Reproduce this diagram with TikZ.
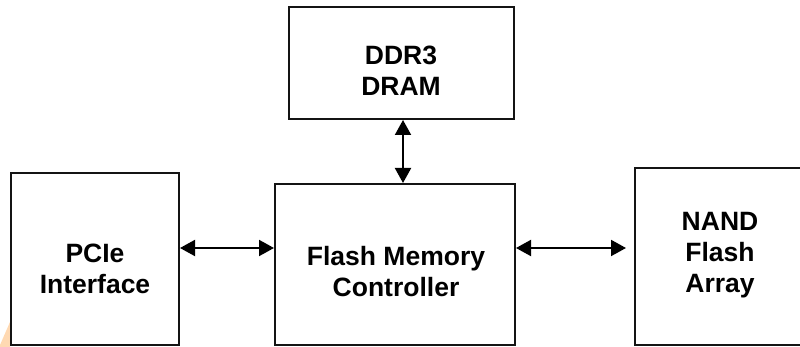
\documentclass[tikz,border=0pt]{standalone}
\usepackage{fontspec}
\setmainfont{Liberation Sans}
\usetikzlibrary{arrows.meta}
\begin{document}
\begin{tikzpicture}[x=1pt,y=-1pt,
  blk/.style={draw=black!92,line width=2pt,rectangle,inner sep=0pt},
  lbl/.style={align=center,anchor=base,inner sep=0pt,
    font=\fontsize{26.5}{31}\selectfont\bfseries},
  arr/.style={line width=2pt,{Triangle[length=15pt,width=16pt]}-{Triangle[length=15pt,width=16pt]}}]
\useasboundingbox (0,0) rectangle (800,347);
\fill[orange!30!white] (0,345) -- (10,322) -- (10,347) -- (0,347) -- cycle;
% boxes
\node[blk,minimum width=225pt,minimum height=112pt] (dram) at (401.5,63) {};
\node[blk,minimum width=240pt,minimum height=161pt] (ctrl) at (395,264.5) {};
\node[blk,minimum width=168pt,minimum height=172pt] (pcie) at (95,259) {};
\node[blk,minimum width=170pt,minimum height=177pt] (nand) at (720,256.5) {};
% labels (anchor = baseline of last line)
\node[lbl] (tdram) at (401,96) {DDR3\\DRAM};
\node[lbl] (tctrl) at (396,296) {Flash Memory\\Controller};
\node[lbl] (tpcie) at (95,293) {PCIe\\Interface};
\node[lbl] (tnand) at (720,292) {NAND\\Flash\\Array};
% connectors
\coordinate (ly) at (0,248);
\coordinate (vx) at (403,0);
\coordinate (rend) at ([xshift=-8pt]nand.west);
\draw[arr] (pcie.east |- ly) -- (ctrl.west |- ly);
\draw[arr] (ctrl.east |- ly) -- (rend |- ly);
\draw[arr] (dram.south -| vx) -- (ctrl.north -| vx);
\end{tikzpicture}
\end{document}
